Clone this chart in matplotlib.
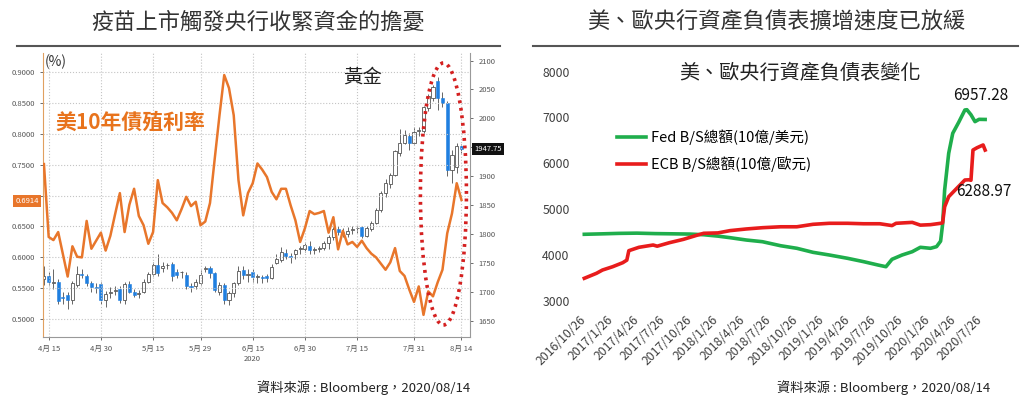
import matplotlib
matplotlib.use("Agg")
import matplotlib.pyplot as plt
import matplotlib.dates as mdates
from matplotlib.patches import Ellipse
from matplotlib.lines import Line2D
import numpy as np
import pandas as pd

plt.rcParams['font.family'] = ['Noto Sans CJK TC', 'DejaVu Sans']

# ---- left panel data: US 10y yield and gold candles (business days) ----
days = pd.bdate_range('2020-04-14', '2020-08-14')

yield10 = [0.751, 0.633, 0.628, 0.641, 0.605, 0.569, 0.618, 0.601, 0.600, 0.659, 0.614, 0.627, 0.640,
           0.611, 0.635, 0.670, 0.704, 0.641, 0.685, 0.711, 0.667, 0.652, 0.622, 0.641, 0.725, 0.688,
           0.681, 0.672, 0.660, 0.678, 0.698, 0.683, 0.690, 0.652,
           0.658, 0.688, 0.760, 0.830, 0.895, 0.874, 0.830, 0.725, 0.668, 0.704, 0.720, 0.752, 0.742,
           0.730, 0.706, 0.694, 0.711, 0.711, 0.684, 0.660, 0.625, 0.647,
           0.675, 0.670, 0.672, 0.675, 0.640, 0.665, 0.613, 0.643, 0.621, 0.625, 0.617, 0.627, 0.615,
           0.606, 0.600, 0.590, 0.580, 0.592, 0.615, 0.578, 0.570, 0.548, 0.528,
           0.553, 0.507, 0.545, 0.537, 0.560, 0.580, 0.639, 0.671, 0.720, 0.693]

gold_open = [1722, 1728, 1716, 1718, 1692, 1695, 1686, 1712, 1731, 1728, 1715, 1708, 1714, 1686, 1698,
             1702, 1705, 1686, 1714, 1701, 1697, 1701, 1718, 1731, 1747, 1742, 1746, 1749, 1735, 1734,
             1730, 1710, 1710, 1716, 1740, 1742, 1733, 1700, 1713, 1686, 1698, 1715, 1738, 1730, 1735,
             1726, 1725, 1727, 1725, 1750, 1756, 1768, 1762, 1766, 1774, 1774, 1780, 1773, 1775, 1776,
             1784, 1796, 1809, 1803, 1800, 1807, 1810, 1812, 1797, 1809, 1819, 1842, 1871, 1887, 1902,
             1941, 1957, 1970, 1957, 1978, 1979, 2018, 2035, 2064, 2035, 2027, 1911, 1916, 1953]
gold_high = [1745, 1735, 1740, 1722, 1700, 1700, 1720, 1745, 1740, 1732, 1720, 1715, 1718, 1702, 1708,
             1710, 1710, 1718, 1720, 1705, 1703, 1722, 1735, 1752, 1765, 1752, 1750, 1752, 1740, 1736,
             1735, 1716, 1722, 1738, 1745, 1745, 1735, 1718, 1716, 1702, 1718, 1745, 1745, 1740, 1740,
             1732, 1730, 1732, 1748, 1765, 1778, 1775, 1768, 1775, 1780, 1785, 1788, 1778, 1780, 1788,
             1798, 1812, 1815, 1810, 1812, 1815, 1815, 1815, 1814, 1822, 1845, 1875, 1895, 1905, 1945,
             1981, 1980, 1975, 1985, 1985, 2022, 2042, 2058, 2072, 2045, 2030, 1945, 1958, 1955]
gold_low = [1712, 1712, 1705, 1680, 1680, 1670, 1680, 1708, 1725, 1710, 1700, 1698, 1680, 1675, 1690,
            1695, 1682, 1680, 1698, 1692, 1690, 1698, 1715, 1728, 1728, 1735, 1740, 1720, 1725, 1725,
            1705, 1700, 1705, 1712, 1735, 1725, 1700, 1695, 1680, 1678, 1692, 1712, 1722, 1718, 1718,
            1715, 1715, 1718, 1722, 1748, 1752, 1758, 1750, 1758, 1765, 1770, 1765, 1765, 1770, 1772,
            1774, 1790, 1798, 1795, 1795, 1800, 1802, 1794, 1795, 1806, 1817, 1838, 1865, 1880, 1900,
            1935, 1955, 1945, 1955, 1970, 1975, 2012, 2030, 2015, 2020, 1900, 1889, 1905, 1940]
gold_close = [1728, 1718, 1717, 1684, 1690, 1686, 1716, 1731, 1730, 1716, 1708, 1707, 1686, 1697, 1699,
              1703, 1686, 1714, 1701, 1695, 1699, 1718, 1731, 1747, 1733, 1745, 1747, 1728, 1730, 1735,
              1711, 1709, 1718, 1730, 1741, 1733, 1704, 1713, 1686, 1699, 1715, 1737, 1730, 1731, 1726,
              1727, 1724, 1725, 1744, 1757, 1770, 1762, 1761, 1773, 1775, 1781, 1772, 1774, 1776, 1784,
              1796, 1809, 1803, 1804, 1806, 1808, 1811, 1797, 1810, 1820, 1842, 1871, 1889, 1902, 1943,
              1958, 1972, 1957, 1976, 1979, 2020, 2038, 2055, 2035, 2027, 1911, 1937, 1953, 1947.75]
yield_last = 0.6914

left_ticks = ['2020-04-15', '2020-04-30', '2020-05-15', '2020-05-29', '2020-06-15',
              '2020-06-30', '2020-07-15', '2020-07-31', '2020-08-14']
yield_ticks = [0.50, 0.55, 0.60, 0.65, 0.70, 0.75, 0.80, 0.85, 0.90]
yield_tick_labels = ['0.5000', '0.5500', '0.6000', '0.6500', '', '0.7500', '0.8000', '0.8500', '0.9000']
gold_ticks = [1650, 1700, 1750, 1800, 1850, 1900, 1950, 2000, 2050, 2100]
gold_tick_labels = ['1650', '1700', '1750', '1800', '1850', '1900', '', '2000', '2050', '2100']

# ---- right panel data: Fed / ECB balance sheets ----
fed_dates = ['2016-10-26', '2016-12-28', '2017-02-22', '2017-04-26', '2017-06-28', '2017-08-30',
             '2017-10-25', '2017-12-13', '2018-01-31', '2018-03-14', '2018-05-09', '2018-07-04',
             '2018-09-05', '2018-10-31', '2018-12-26', '2019-02-20', '2019-04-24', '2019-06-19',
             '2019-08-07', '2019-09-04', '2019-09-25', '2019-10-30', '2019-12-04', '2020-01-01',
             '2020-02-05', '2020-02-26', '2020-03-04', '2020-03-11', '2020-03-18', '2020-03-25',
             '2020-04-08', '2020-04-22', '2020-05-13', '2020-06-03', '2020-06-10', '2020-06-24',
             '2020-07-08', '2020-07-22', '2020-08-12']
fed_vals = [4450, 4460, 4470, 4475, 4465, 4460, 4455, 4440, 4410, 4376, 4325, 4288,
            4200, 4144, 4056, 3998, 3926, 3852, 3780, 3742, 3904, 3998, 4070, 4166,
            4144, 4180, 4240, 4300, 4670, 5417, 6218, 6655, 6900, 7164, 7170, 7060,
            6910, 6960, 6957.28]

ecb_dates = ['2016-10-26', '2016-12-07', '2016-12-28', '2017-02-01', '2017-03-08', '2017-03-22',
             '2017-03-29', '2017-05-03', '2017-06-21', '2017-07-05', '2017-08-16', '2017-10-04',
             '2017-11-22', '2017-12-13', '2018-01-31', '2018-03-14', '2018-05-09', '2018-07-04',
             '2018-09-05', '2018-10-31', '2018-12-26', '2019-02-20', '2019-04-24', '2019-06-19',
             '2019-08-14', '2019-09-25', '2019-10-09', '2019-12-04', '2020-01-01', '2020-02-05',
             '2020-03-11', '2020-03-18', '2020-03-25', '2020-04-08', '2020-05-06', '2020-06-03',
             '2020-06-17', '2020-06-24', '2020-07-01', '2020-07-15', '2020-08-05', '2020-08-12']
ecb_vals = [3489, 3598, 3670, 3742, 3830, 3886, 4092, 4166, 4216, 4190, 4266, 4340,
            4434, 4472, 4480, 4530, 4566, 4594, 4614, 4614, 4668, 4690, 4690, 4680,
            4680, 4640, 4690, 4710, 4650, 4660, 4690, 4700, 5050, 5271, 5454, 5635,
            5640, 5630, 6290, 6340, 6400, 6288.97]

right_tick_start = '2016-10-26'
right_yticks = [3000, 4000, 5000, 6000, 7000, 8000]

W, H = 1024, 405


def fx(p):
    return p / W


def fy(p):
    return 1 - p / H


fig = plt.figure(figsize=(W / 100, H / 100), dpi=100)

# ================= left panel =================
ax = fig.add_axes([fx(43), fy(337), fx(470 - 43), (337 - 53) / H])
ax2 = ax.twinx()
ax.set_zorder(2)
ax2.set_zorder(1)
ax.patch.set_visible(False)

idx = np.arange(len(days))
o = np.array(gold_open, float)
h = np.array(gold_high, float)
l = np.array(gold_low, float)
c = np.array(gold_close, float)
up = c >= o
body = np.maximum(np.abs(c - o), 1.5)
ax2.vlines(idx, l, h, color='#666666', lw=0.7, zorder=1)
ax2.bar(idx[up], body[up], bottom=np.minimum(o, c)[up], width=0.65,
        facecolor='white', edgecolor='#555555', lw=0.6, zorder=2)
ax2.bar(idx[~up], body[~up], bottom=np.minimum(o, c)[~up], width=0.65,
        facecolor='#1f7fe0', edgecolor='#1f7fe0', lw=0.4, zorder=2)

ax.plot(idx, yield10, color='#e8762b', lw=1.8, zorder=3)

ax.set_xlim(-0.2, 89.8)
ax.set_ylim(0.4712, 0.9307)
ax2.set_ylim(1622.5, 2113)

tick_pos = [days.get_loc(pd.Timestamp(d)) for d in left_ticks]
ax.set_xticks(tick_pos)
ax.set_xticklabels([f"{pd.Timestamp(d).month}月 {pd.Timestamp(d).day}" for d in left_ticks])
ax.set_yticks(yield_ticks)
ax.set_yticklabels(yield_tick_labels)
ax2.set_yticks(gold_ticks)
ax2.set_yticklabels(gold_tick_labels)

for a in (ax, ax2):
    a.tick_params(labelsize=5.5, colors='#555555', length=2.5, width=0.6)
ax.grid(True, ls=':', color='#c4c4c4', lw=0.8)
ax.spines['top'].set_visible(False)
ax2.spines['top'].set_visible(False)
ax.spines['left'].set_color('#e0a060')
ax.spines['bottom'].set_color('#999999')
ax.spines['right'].set_visible(False)
ax2.spines['right'].set_color('#999999')
ax2.spines['left'].set_visible(False)
ax2.spines['bottom'].set_visible(False)

ax.annotate('2020', xy=(days.get_loc(pd.Timestamp('2020-06-15')), 0), xycoords=('data', 'axes fraction'),
            xytext=(0, -16), textcoords='offset points', ha='center', va='center',
            fontsize=5.5, color='#555555')

# last value tags
ax.annotate(f"{yield_last:.4f}", xy=(0, yield_last), xycoords=('axes fraction', 'data'),
            xytext=(-3, 0), textcoords='offset points', ha='right', va='center',
            fontsize=5.5, color='white',
            bbox=dict(boxstyle='square,pad=0.25', fc='#e8762b', ec='none'))
ax2.annotate(f"{gold_close[-1]:.2f}", xy=(1, gold_close[-1]), xycoords=('axes fraction', 'data'),
             xytext=(3, 0), textcoords='offset points', ha='left', va='center',
             fontsize=5.5, color='white',
             bbox=dict(boxstyle='square,pad=0.25', fc='#111111', ec='none'))

ax.add_patch(Ellipse((84.2, 0.7026), 9.7, 0.424, fill=False, ec='#d42020',
                     ls=(0, (0.8, 1.3)), lw=2.6, zorder=4))

fig.text(fx(45), fy(62), '(%)', fontsize=10, color='#333333', ha='left', va='center')
fig.text(fx(55), fy(122), '美10年債殖利率', fontsize=15, fontweight='bold', color='#e8731c',
         ha='left', va='center')
fig.text(fx(363), fy(77), '黃金', fontsize=14, color='#222222', ha='center', va='center')

fig.text(fx(258), fy(22), '疫苗上市觸發央行收緊資金的擔憂', fontsize=16, color='#333333',
         ha='center', va='center')
fig.add_artist(Line2D([fx(17), fx(500)], [fy(46), fy(46)], color='#555555', lw=1.5))
fig.text(fx(470), fy(388), '資料來源 : Bloomberg，2020/08/14', fontsize=9.5, color='#222222',
         ha='right', va='center')

# ================= right panel =================
axr = fig.add_axes([fx(578), fy(300.7), fx(1000 - 578), (300.7 - 71.7) / H])
t0 = mdates.date2num(pd.Timestamp(right_tick_start))
px_per_day = 0.2892
axr.set_xlim(t0 - (584.3 - 578) / px_per_day, t0 + (1000 - 584.3) / px_per_day)
axr.set_ylim(3000, 8000)

axr.plot(pd.to_datetime(fed_dates), fed_vals, color='#1fae4c', lw=2.6,
         label='Fed B/S總額(10億/美元)', solid_joinstyle='round')
axr.plot(pd.to_datetime(ecb_dates), ecb_vals, color='#e81c1c', lw=2.6,
         label='ECB B/S總額(10億/歐元)', solid_joinstyle='round')

rticks = [pd.Timestamp(right_tick_start) + pd.DateOffset(months=3 * k) for k in range(16)]
axr.set_xticks(rticks)
axr.set_xticklabels([f"{d.year}/{d.month}/{d.day}" for d in rticks], rotation=45,
                    ha='right', va='center', rotation_mode='anchor')
axr.set_yticks(right_yticks)
axr.tick_params(length=0, labelsize=8.8, colors='#404040')
axr.tick_params(axis='x', pad=12)
axr.tick_params(axis='y', pad=6)
for s in axr.spines.values():
    s.set_visible(False)
axr.patch.set_visible(False)

axr.legend(loc='center left', bbox_to_anchor=(fx(617), fy(151)), bbox_transform=fig.transFigure,
           frameon=False, fontsize=10.5, handlelength=2.0, handletextpad=0.3,
           labelspacing=0.75, borderpad=0, borderaxespad=0)

axr.annotate(f"{fed_vals[-1]:.2f}", xy=(pd.Timestamp(fed_dates[-1]), fed_vals[-1]),
             xytext=(-3, 17), textcoords='offset points', ha='center', va='center',
             fontsize=11, color='#111111')
axr.annotate(f"{ecb_vals[-1]:.2f}", xy=(pd.Timestamp(ecb_dates[-1]), ecb_vals[-1]),
             xytext=(-1, -30), textcoords='offset points', ha='center', va='center',
             fontsize=11, color='#111111')

fig.text(fx(800), fy(73), '美、歐央行資產負債表變化', fontsize=14.5, color='#222222',
         ha='center', va='center')
fig.text(fx(776), fy(22), '美、歐央行資產負債表擴增速度已放緩', fontsize=16, color='#333333',
         ha='center', va='center')
fig.add_artist(Line2D([fx(533), fx(1018)], [fy(46), fy(46)], color='#555555', lw=1.5))
fig.text(fx(990), fy(388), '資料來源 : Bloomberg，2020/08/14', fontsize=9.5, color='#222222',
         ha='right', va='center')

fig.savefig('out.png', dpi=100)
